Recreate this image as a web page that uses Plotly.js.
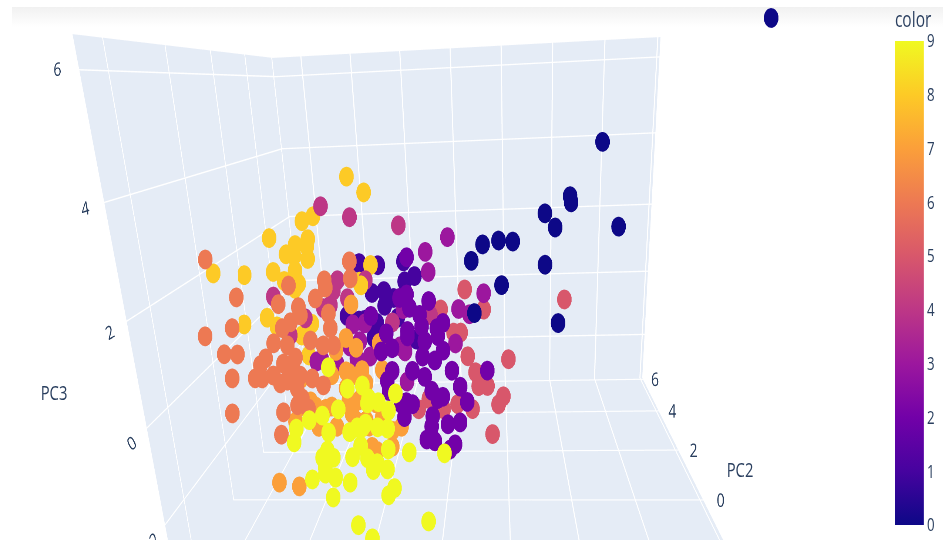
<!DOCTYPE html>
<html><head><meta charset="utf-8">
<script src="https://cdn.plot.ly/plotly-3.0.1.min.js"></script>
<style>html,body{margin:0;padding:0;background:#fff;overflow:hidden;width:943px;height:542px}
#band{position:absolute;left:12px;top:7px;width:931px;height:20px;background:linear-gradient(#f1f1f1,#fff)}
#wrap{position:absolute;left:0;top:8px;width:1274px;height:532px;transform-origin:0 0;transform:scaleX(0.74)}
#g{width:1274px;height:532px}</style></head><body>
<div id="band"></div>
<div id="wrap"><div id="g"></div></div>
<script>
// [PC1, PC2, PC3] per digit class
var digit0=[[7.46,-2.25,6.23],[5.34,3.14,4.09],[4.22,2.73,2.90],[4.25,2.69,2.76],[3.36,2.58,2.54],[3.70,2.50,2.21],[5.84,2.60,2.16],[3.34,2.24,1.38],[2.26,2.34,1.94],[1.78,2.32,1.98],[1.24,2.27,1.91],[0.85,2.15,1.55],[1.86,2.03,0.97],[3.75,1.87,0.05],[0.93,1.80,0.37]];
var digit1=[[-2.39,2.25,1.48],[-3.03,2.23,1.55],[-1.50,2.31,1.54],[-1.13,2.23,1.19],[-1.47,2.18,1.08],[-2.60,2.05,0.85],[-2.19,2.08,0.88],[-1.86,2.05,0.71],[-2.86,1.86,0.24],[-2.17,1.98,0.54],[-3.47,1.85,0.35],[-3.06,1.84,0.23],[-2.56,1.75,-0.18],[-1.10,1.80,-0.27],[-1.73,1.92,0.25],[-2.45,1.85,0.16]];
var digit2=[[-1.32,2.01,1.72],[-0.60,1.76,0.71],[-1.58,1.74,0.81],[-1.34,1.77,0.88],[-1.25,1.68,0.58],[-0.91,1.65,0.41],[-2.55,1.57,0.44],[-0.13,1.64,0.20],[-0.34,1.59,0.09],[-0.85,1.58,0.15],[-1.33,1.53,0.06],[-2.04,1.48,0.03],[-2.22,1.35,-0.37],[-1.85,1.39,-0.31],[-1.86,1.24,-0.82],[-1.18,1.27,-0.84],[-0.83,1.38,-0.53],[-0.77,1.25,-0.99],[-0.42,1.37,-0.63],[-0.14,1.45,-0.42],[0.15,1.33,-0.88],[0.42,1.24,-1.25],[0.65,1.15,-1.60],[0.40,1.00,-2.05],[-0.01,0.97,-2.08],[-0.34,1.12,-1.50],[-0.54,1.17,-1.31],[-0.17,1.15,-1.46],[-0.52,1.00,-1.88],[-0.56,0.93,-2.11],[-0.73,0.84,-2.40],[-0.46,0.84,-2.45],[0.22,0.85,-2.54],[0.05,0.81,-2.65],[-1.19,1.05,-1.59],[-1.40,1.06,-1.54],[-1.47,0.95,-1.87],[-1.97,1.10,-1.27],[-2.03,1.17,-1.04],[1.34,1.39,-0.92],[-0.75,1.49,-0.19],[-1.33,1.49,-0.06],[-0.31,1.54,-0.09],[-1.57,1.04,-1.58]];
var digit3=[[-0.71,2.19,1.79],[-0.62,2.06,1.33],[0.05,2.32,2.10],[1.25,2.00,0.79],[0.39,1.86,0.46],[0.76,1.84,0.33],[-2.79,1.62,0.24],[-1.49,1.77,0.52],[-3.08,1.37,-0.55],[-2.97,1.49,-0.16],[-2.63,1.41,-0.52],[-3.31,1.44,-0.27],[0.27,1.63,-0.32],[-1.61,1.52,-0.32],[-1.44,1.49,-0.44],[-1.39,1.30,-1.13],[-4.27,1.31,-0.53],[-4.44,1.29,-0.57],[-3.76,1.31,-0.64],[-3.20,1.59,0.23]];
var digit4=[[-4.26,2.39,2.93],[-3.28,2.36,2.65],[-1.62,2.38,2.41],[-5.91,1.71,0.93],[-4.83,1.61,0.40],[-5.35,1.47,0.03],[-3.39,1.81,0.81],[-3.97,1.74,0.67],[-4.21,1.71,0.61],[-3.86,1.84,1.00],[-3.72,1.92,1.23],[-2.77,1.96,1.20],[-0.57,1.83,0.33],[-1.87,1.72,0.21]];
var digit5=[[4.00,2.20,0.52],[0.60,2.11,0.86],[1.24,2.00,0.38],[0.67,1.67,-0.67],[2.06,1.71,-0.78],[0.93,1.57,-1.04],[1.17,1.53,-1.21],[1.33,1.50,-1.37],[1.03,1.48,-1.36],[1.87,1.45,-1.62],[1.70,1.39,-1.80],[1.48,1.18,-2.47],[0.27,1.78,-0.20],[-0.68,1.32,-1.60],[0.81,1.32,-1.88],[0.30,1.33,-1.75],[-1.03,1.23,-1.82],[-0.18,1.27,-1.85],[-0.23,1.94,0.43],[0.20,1.80,-0.11],[0.44,1.82,-0.12]];
var digit6=[[-6.07,-1.20,2.63],[-6.10,-1.61,1.26],[-2.76,0.51,2.06],[-3.53,0.36,1.70],[-2.74,0.41,1.71],[-4.62,0.28,1.63],[-6.21,0.14,1.44],[-4.94,0.16,1.26],[-6.35,-0.05,0.82],[-6.60,-0.22,0.30],[-6.20,-0.20,0.28],[-6.37,-0.35,-0.20],[-5.67,-0.32,-0.22],[-5.46,-0.31,-0.23],[-6.38,-0.56,-0.91],[-4.83,-0.48,-0.94],[-4.90,-0.62,-1.39],[-3.81,0.24,1.34],[-4.33,0.17,1.18],[-4.58,0.07,0.88],[-4.83,0.02,0.77],[-5.10,-0.08,0.47],[-4.68,-0.08,0.42],[-5.35,-0.18,0.17],[-5.51,-0.23,0.04],[-4.44,-0.14,0.16],[-4.81,-0.19,0.05],[-4.60,-0.21,-0.06],[-5.12,-0.28,-0.18],[-4.91,-0.31,-0.35],[-4.70,-0.29,-0.30],[-4.40,-0.32,-0.47],[-4.25,-0.37,-0.68],[-4.40,-0.42,-0.81],[-4.07,-0.42,-0.89],[-3.94,-0.24,-0.28],[-3.60,-0.27,-0.43],[-3.98,-0.01,0.49],[-3.59,-0.03,0.38],[-3.28,-0.01,0.37],[-3.42,0.17,1.02],[-3.37,0.09,0.72],[-3.50,0.32,1.55],[-4.27,0.12,1.01],[-4.30,-0.24,-0.21]];
var digit7=[[-4.98,-0.91,-2.36],[-4.38,-0.90,-2.46],[-3.22,1.64,0.71],[-3.41,1.41,-0.04],[-3.75,1.31,-0.32],[-3.32,1.18,-0.83],[-2.88,1.22,-0.78],[-2.20,1.26,-0.80],[-3.00,1.02,-1.46],[-2.42,1.03,-1.55],[-2.06,1.24,-0.88],[-3.11,0.88,-1.91],[-2.67,0.86,-2.06],[-1.89,0.87,-2.18],[-2.22,0.95,-1.85],[-5.15,0.78,-1.87],[-4.37,0.78,-2.01],[-3.92,0.94,-1.57],[-3.24,0.92,-1.75],[-2.77,0.90,-1.92],[-2.58,0.73,-2.52],[-4.46,0.91,-1.55],[-3.76,0.81,-2.03],[-4.97,0.89,-1.53],[-4.93,1.08,-0.90],[-4.63,0.94,-1.43],[-4.12,0.91,-1.61],[-3.43,1.08,-1.17],[-3.90,1.14,-0.86],[-3.42,1.19,-0.79],[-3.07,1.36,-0.27],[-3.26,1.17,-0.91],[-2.75,1.14,-1.08],[-3.34,1.00,-1.45],[-1.58,0.91,-2.10],[-1.90,0.76,-2.54],[-2.41,0.71,-2.62],[-2.29,1.43,-0.19]];
var digit8=[[-3.40,2.74,3.56],[-2.82,2.66,3.18],[-4.57,2.42,2.69],[-4.95,2.37,2.59],[-6.08,2.20,2.24],[-6.90,0.25,1.95],[-6.95,1.91,1.42],[-5.96,1.98,1.46],[-4.76,2.26,2.17],[-5.20,2.20,2.05],[-5.51,2.12,1.85],[-4.79,2.21,2.01],[-4.77,2.12,1.72],[-5.24,2.12,1.80],[-5.21,2.02,1.46],[-5.59,1.94,1.24],[-5.09,1.94,1.16],[-3.01,2.05,1.14],[-6.19,1.66,0.42],[-6.98,1.58,0.29],[-5.86,1.62,0.21],[-5.01,1.60,-0.03],[-4.78,1.47,-0.49],[-5.22,1.90,1.05],[-4.66,1.69,0.23],[-2.62,2.18,1.51],[-2.90,1.85,1.11]];
var digit9=[[-1.04,-1.67,0.07],[-2.82,-1.62,0.60],[-2.32,-1.71,0.20],[-2.57,-1.83,-0.16],[-1.92,-1.67,0.24],[-1.76,-1.73,0.01],[-1.50,-1.74,-0.07],[-1.23,-1.77,-0.23],[-1.26,-1.87,-0.55],[-1.53,-1.87,-0.52],[-1.85,-1.87,-0.44],[-2.07,-1.90,-0.50],[-1.25,-1.98,-0.92],[-0.69,-1.97,-0.99],[0.25,-1.93,-1.04],[-1.99,-1.99,-0.83],[-3.35,-1.92,-0.33],[-3.70,-1.98,-0.47],[-3.76,-2.06,-0.71],[-3.00,-1.88,-0.26],[-2.84,-1.96,-0.57],[-2.88,-2.06,-0.89],[-3.01,-2.10,-1.01],[-2.72,-2.09,-1.02],[-2.94,-2.15,-1.19],[-2.94,-2.18,-1.30],[-3.29,-2.23,-1.39],[-2.67,-2.19,-1.38],[-2.28,-2.20,-1.48],[-2.74,-2.30,-1.73],[-2.28,-1.93,-0.58],[-1.93,-1.89,-0.51],[-2.21,-2.06,-1.03],[-1.81,-2.05,-1.06],[-1.55,-2.06,-1.16],[-1.66,-2.10,-1.28],[-1.28,-2.08,-1.28],[-1.10,-2.17,-1.62],[-1.26,-2.22,-1.74],[-2.08,-2.41,-2.25],[-1.71,-2.46,-2.50],[-0.20,-2.31,-2.24],[-1.79,-1.76,-0.08]];
var classes=[digit0,digit1,digit2,digit3,digit4,digit5,digit6,digit7,digit8,digit9];
var pc1=[],pc2=[],pc3=[],digit=[];
classes.forEach(function(rows,k){rows.forEach(function(p){pc1.push(p[0]);pc2.push(p[1]);pc3.push(p[2]);digit.push(k);});});
var plasma=[[0,'#0d0887'],[0.1111,'#46039f'],[0.2222,'#7201a8'],[0.3333,'#9c179e'],[0.4444,'#bd3786'],[0.5556,'#d8576b'],[0.6667,'#ed7953'],[0.7778,'#fb9f3a'],[0.8889,'#fdca26'],[1,'#f0f921']];
var ax={backgroundcolor:'#E5ECF6',showbackground:true,gridcolor:'#fff',zerolinecolor:'#fff',gridwidth:3,zerolinewidth:3,dtick:2,tickfont:{size:15,color:'#2a3f5f'}};
function A(t,r){return Object.assign({},ax,{title:{text:t,font:{size:20,color:'#2a3f5f'}},range:r});}
function note(t,x,y){return {text:t,xref:'paper',yref:'paper',x:x,y:y,showarrow:false,font:{size:20,color:'#2a3f5f'}};}
Plotly.newPlot('g',[{type:'scatter3d',mode:'markers',x:pc1,y:pc2,z:pc3,
 marker:{size:11.5,color:digit,cmin:0,cmax:9,colorscale:plasma,opacity:1,line:{width:0},
  colorbar:{title:{text:'color',font:{size:21,color:'#2a3f5f'}},thickness:39,outlinewidth:0,ticks:'',tickmode:'array',tickvals:[0,1,2,3,4,5,6,7,8,9],ticktext:['0','1','2','3','4','5','6','7','8','9'],tickfont:{size:18,color:'#2a3f5f'},x:0.996,xanchor:'right',len:0.972,y:1,yanchor:'top',ypad:0}}}],
 {width:1274,height:532,margin:{l:0,r:0,t:0,b:0},paper_bgcolor:'rgba(0,0,0,0)',font:{family:'"Open Sans",sans-serif',color:'#2a3f5f'},showlegend:false,
  annotations:[note('PC3',0.0414,0.2483),note('PC2',0.8009,0.1034)],
  scene:{dragmode:'orbit',aspectmode:'manual',aspectratio:{x:1.3257,y:0.8198,z:0.9202},camera:{eye:{x:0.1122,y:-1.3031,z:0.3674},center:{x:0.0367,y:-0.0297,z:-0.0067},up:{x:0.035,y:0,z:1}},
   xaxis:A('PC1',[-7.15,8.1]),yaxis:A('',[-2.75,6.1]),zaxis:A('',[-3.45,6.5])}
 },{displayModeBar:false});
</script></body></html>
